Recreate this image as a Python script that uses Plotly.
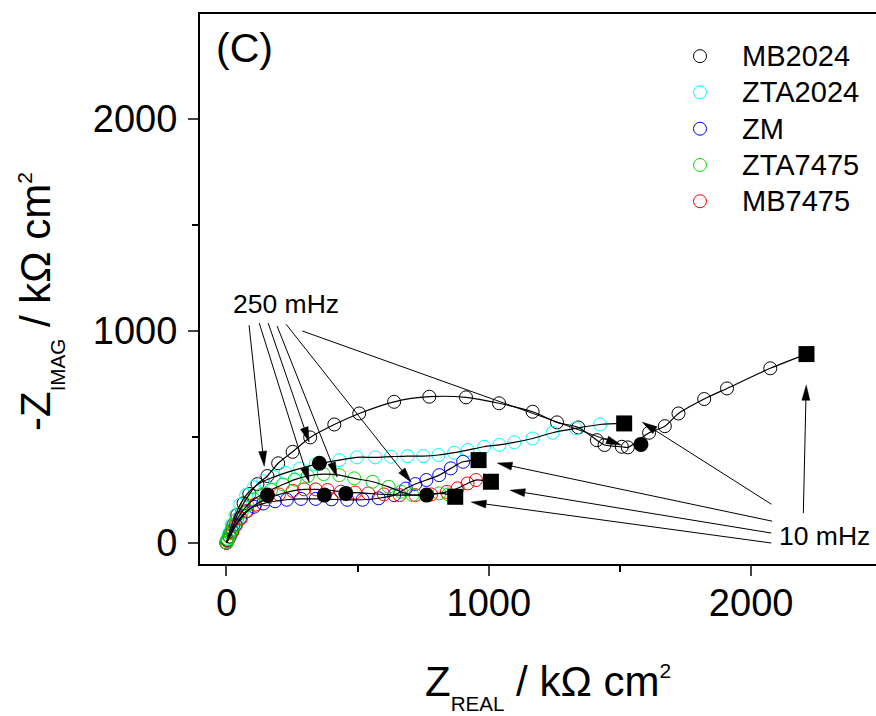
import math
import plotly.graph_objects as go

# ---------------- data ----------------
series_names = ["MB2024", "ZTA2024", "ZM", "ZTA7475", "MB7475"]
series_colors = ["#000000", "#00FFFF", "#0000FF", "#00E000", "#FF0000"]

mb2024_x = [0, 3, 14, 26, 41, 65, 87, 118, 156, 197, 252, 319, 411, 506, 639, 773, 913,
            1039, 1167, 1260, 1341, 1412, 1441, 1507, 1530, 1611, 1671, 1723, 1821, 1908, 2073]
mb2024_y = [0, 13, 46, 84, 131, 186, 230, 277, 315, 375, 429, 497, 558, 610, 665, 689, 686,
            658, 618, 568, 544, 484, 461, 453, 450, 519, 550, 610, 678, 728, 823]

zta2024_x = [0, 4, 10, 20, 34, 52, 75, 105, 140, 180, 225, 280, 340, 430, 497, 567, 627, 690,
             750, 808, 868, 919, 982, 1040, 1097, 1167, 1243, 1332, 1424]
zta2024_y = [0, 18, 45, 85, 130, 180, 225, 262, 290, 310, 330, 350, 370, 390, 403, 403, 406,
             409, 409, 414, 425, 437, 453, 462, 474, 492, 519, 540, 558]

zm_x = [0, 5, 12, 22, 35, 52, 75, 105, 140, 185, 230, 284, 340, 400, 460, 519, 580, 639, 684,
        720, 762, 811, 855, 902]
zm_y = [0, 12, 30, 55, 85, 118, 148, 170, 185, 196, 203, 207, 207, 205, 203, 203, 210, 225,
        256, 277, 296, 319, 351, 382]

zta7475_x = [0, 2, 5, 9, 14, 20, 28, 40, 58, 80, 105, 135, 170, 215, 260, 310, 370, 430, 487,
             557, 618, 665, 709, 811, 845]
zta7475_y = [0, 8, 18, 30, 45, 62, 82, 110, 145, 178, 205, 228, 250, 275, 298, 315, 324, 319,
             304, 288, 264, 241, 225, 233, 228]

mb7475_x = [0, 5, 12, 22, 35, 55, 80, 110, 150, 200, 252, 296, 340, 385, 436, 490, 540, 600,
            660, 720, 780, 840, 881, 919, 951]
mb7475_y = [0, 10, 28, 50, 80, 115, 150, 180, 205, 228, 245, 252, 252, 249, 241, 237, 233, 228,
            225, 225, 228, 240, 257, 280, 296]

# 10 mHz end points (squares), one per series, same order as series_names
end10_x = [2211, 1516, 961, 872, 1008]
end10_y = [890, 563, 390, 217, 288]

# 250 mHz points (filled circles)
f250_x = [156, 354, 373, 455, 763, 1580]
f250_y = [225, 375, 225, 233, 225, 464]

x_ticks = [0, 1000, 2000]
y_ticks = [0, 1000, 2000]

series_x = [mb2024_x, zta2024_x, zm_x, zta7475_x, mb7475_x]
series_y = [mb2024_y, zta2024_y, zm_y, zta7475_y, mb7475_y]

# ---------------- layout geometry ----------------
W, H = 876, 716
ML, MR, MT, MB = 200, 0, 14, 152
XR = [-101, 2476]
YR = [-100, 2494]
PW, PH = W - ML - MR, H - MT - MB
SX = PW / (XR[1] - XR[0])
SY = PH / (YR[1] - YR[0])
FONT = "Liberation Sans, Arial, sans-serif"


def px(xp):
    return (xp - ML) / PW


def py(yp):
    return (H - MB - yp) / PH


fig = go.Figure()

draw_order = [0, 1, 2, 4, 3]
for i in draw_order:
    fig.add_trace(go.Scatter(
        x=series_x[i], y=series_y[i], mode="markers",
        name=f'<span style="font-size:29px">{series_names[i]}</span>',
        legendrank=i + 1,
        marker=dict(symbol="circle-open", size=13, color=series_colors[i],
                    line=dict(width=1, color=series_colors[i])),
    ))

# fitted curves (black lines)
for i in range(5):
    fig.add_trace(go.Scatter(
        x=series_x[i] + [end10_x[i]], y=series_y[i] + [end10_y[i]],
        mode="lines", line=dict(color="black", width=1.2, shape="spline", smoothing=0.8),
        showlegend=False, hoverinfo="skip",
    ))

fig.add_trace(go.Scatter(x=f250_x, y=f250_y, mode="markers", showlegend=False,
                         marker=dict(symbol="circle", size=15, color="black")))
fig.add_trace(go.Scatter(x=end10_x, y=end10_y, mode="markers", showlegend=False,
                         marker=dict(symbol="square", size=16, color="black")))

# arrows (tail -> tip, data units)
arrows = [
    ((86, 1026), (144, 361)), ((125, 1036), (315, 286)), ((159, 1036), (315, 475)),
    ((193, 1022), (422, 310)), ((227, 1031), (704, 286)), ((289, 999), (1505, 461)),
    ((2077, 182), (1585, 569)), ((2080, 102), (1032, 376)), ((2077, 46), (1081, 248)),
    ((2077, -1), (933, 192)), ((2199, 140), (2210, 743)),
]
shapes = []
HL, HW = 15, 4.0
for (tx, ty), (hx, hy) in arrows:
    dxp = (hx - tx) * SX
    dyp = (hy - ty) * SY
    L = math.hypot(dxp, dyp)
    ux, uy = dxp / L, dyp / L
    bx, by = -ux * HL, -uy * HL
    nx, ny = -uy * HW, ux * HW
    p1 = (hx + (bx + nx) / SX, hy + (by + ny) / SY)
    p2 = (hx + (bx - nx) / SX, hy + (by - ny) / SY)
    shapes.append(dict(type="line", xref="x", yref="y", x0=tx, y0=ty, x1=hx - ux * 6 / SX,
                       y1=hy - uy * 6 / SY, line=dict(color="black", width=1)))
    shapes.append(dict(type="path", xref="x", yref="y",
                       path=f"M{hx},{hy} L{p1[0]},{p1[1]} L{p2[0]},{p2[1]} Z",
                       fillcolor="black", line=dict(color="black", width=0.5)))

annotations = [
    dict(text="(C)", x=px(214), y=py(48), xanchor="left", yanchor="middle", showarrow=False,
         font=dict(size=41)),
    dict(text="250 mHz", x=px(231), y=py(304), xanchor="left", yanchor="middle", showarrow=False,
         font=dict(size=26.5)),
    dict(text="10 mHz", x=px(777), y=py(536), xanchor="left", yanchor="middle", showarrow=False,
         font=dict(size=26.5)),
    dict(text="Z<sub><sub>REAL</sub></sub> / kΩ cm<sup><span style=\"font-size:21px\">2</span></sup>",
         x=px(548), y=py(686), xanchor="center", yanchor="middle", showarrow=False,
         font=dict(size=42)),
    dict(text="-Z<sub><sub>IMAG</sub></sub> / kΩ cm<sup><span style=\"font-size:21px\">2</span></sup>",
         x=px(40), y=py(302), xanchor="center", yanchor="middle", showarrow=False,
         textangle=-90, font=dict(size=42)),
]
for a in annotations:
    a["xref"] = "paper"
    a["yref"] = "paper"

fig.update_layout(
    width=W, height=H, margin=dict(l=ML, r=MR, t=MT, b=MB, pad=0),
    paper_bgcolor="white", plot_bgcolor="white",
    font=dict(family=FONT, color="black"),
    shapes=shapes, annotations=annotations,
    legend=dict(x=px(658), y=py(33), xanchor="left", yanchor="top", font=dict(size=25.6),
                bgcolor="rgba(0,0,0,0)", itemwidth=74, tracegroupgap=0),
    showlegend=True,
)
fig.update_xaxes(range=XR, tickvals=x_ticks, ticks="outside", ticklen=10, tickwidth=2,
                 showline=True, linewidth=2, linecolor="black", mirror=True,
                 showgrid=False, zeroline=False, tickfont=dict(size=38),
                 ticklabelstandoff=-6,
                 minor=dict(tickmode="array", tickvals=[500, 1500], ticklen=6, tickwidth=2,
                            ticks="outside", tickcolor="black", showgrid=False))
fig.update_yaxes(range=YR, tickvals=y_ticks, ticks="outside", ticklen=10, tickwidth=2,
                 showline=True, linewidth=2, linecolor="black", mirror=False,
                 showgrid=False, zeroline=False, tickfont=dict(size=38),
                 ticklabelstandoff=3,
                 minor=dict(tickmode="array", tickvals=[500, 1500], ticklen=6, tickwidth=2,
                            ticks="outside", tickcolor="black", showgrid=False))

fig.write_html("out.html")
